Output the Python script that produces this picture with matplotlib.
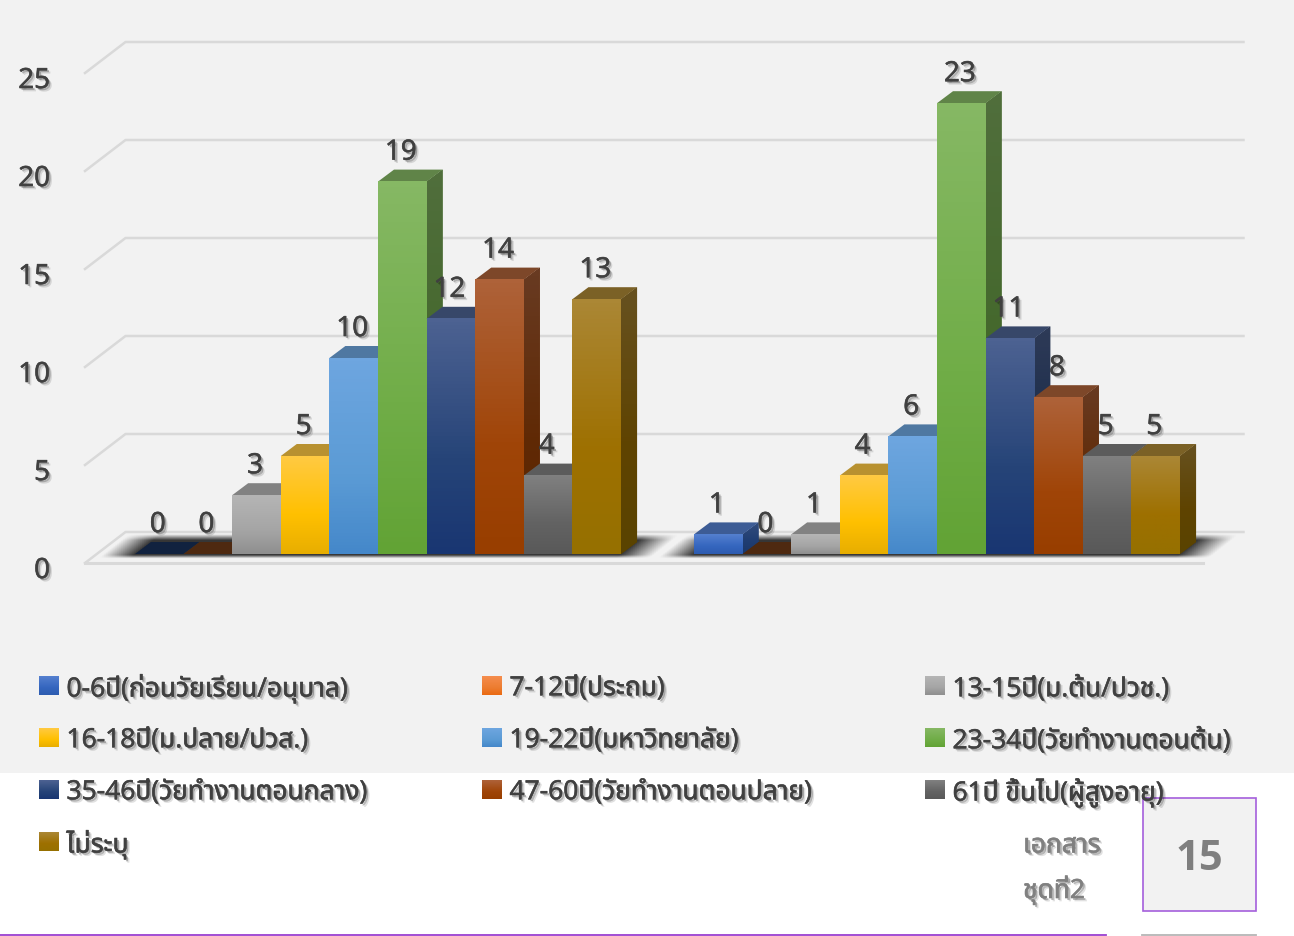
"""Age groups bar chart, two groups of ten bars drawn with a fake 3D look"""
import matplotlib
matplotlib.use('Agg')
import matplotlib.pyplot as plt
import matplotlib.patheffects as pe
import numpy as np
from matplotlib.colors import to_rgb
from matplotlib.patches import Polygon, Rectangle

plt.rcParams['font.family'] = ['Open Sans', 'Noto Sans Thai', 'DejaVu Sans']

series_names = ['0-6ปี(ก่อนวัยเรียน/อนุบาล)', '7-12ปี(ประถม)', '13-15ปี(ม.ต้น/ปวช.)',
                '16-18ปี(ม.ปลาย/ปวส.)', '19-22ปี(มหาวิทยาลัย)', '23-34ปี(วัยทำงานตอนต้น)',
                '35-46ปี(วัยทำงานตอนกลาง)', '47-60ปี(วัยทำงานตอนปลาย)', '61ปี ขึ้นไป(ผู้สูงอายุ)',
                'ไม่ระบุ']
group_1 = [0, 0, 3, 5, 10, 19, 12, 14, 4, 13]
group_2 = [1, 0, 1, 4, 6, 23, 11, 8, 5, 5]
y_ticks = [0, 5, 10, 15, 20, 25]
doc_label = ['เอกสาร', 'ชุดที่2']
doc_number = '15'

# top, middle and bottom colour of each series
gradients = [('#5580cf', '#3566bf', '#2d5cb0'), ('#f58d4e', '#ed7d31', '#ea6a12'),
             ('#b5b5b5', '#a5a5a5', '#8f8f8f'), ('#ffca42', '#ffc000', '#e8ae00'),
             ('#6ea6e0', '#5b9bd5', '#4588ca'), ('#86b864', '#70ad47', '#62a335'),
             ('#4d6292', '#264478', '#193672'), ('#ae6239', '#a04508', '#983e00'),
             ('#808080', '#636363', '#595959'), ('#ab8735', '#9e7000', '#967000')]

W, H = 1294, 936
BAR_PX = 48.6
UNIT_PX = 19.6
CHART_LEFT, CHART_WIDTH = 98.5, 1118
CHART_BOTTOM = 554
BAR_COUNT = 23  # two categories, 11.5 bar widths each


def shade(color, factor):
    return tuple(c * factor for c in to_rgb(color))


def gradient_image(stops):
    top, mid, bottom = [np.array(to_rgb(c)) for c in stops]
    t = np.linspace(0, 1, 64)[:, None]
    return np.where(t < 0.6, top + (mid - top) * t / 0.6, mid + (bottom - mid) * (t - 0.6) / 0.4)[:, None, :]


def soft_text(target, x, y, text, size, color='#404040', **kwargs):
    t = target.text(x, y, text, fontsize=size, color=color, va='center', clip_on=False, **kwargs)
    t.set_path_effects([pe.SimplePatchShadow(offset=(2.4, -2.4), shadow_rgbFace='#000000', alpha=0.12),
                        pe.SimplePatchShadow(offset=(1.4, -1.4), shadow_rgbFace='#000000', alpha=0.28),
                        pe.Stroke(linewidth=0.45, foreground=color),
                        pe.Normal()])
    return t


fig = plt.figure(figsize=(W / 100, H / 100), dpi=100, facecolor='white')

# page layer, in pixels
page = fig.add_axes([0, 0, 1, 1], zorder=0)
page.set_xlim(0, W)
page.set_ylim(H, 0)
page.axis('off')
page.add_patch(Rectangle((0, 0), W, 773, color='#f2f2f2', lw=0))
page.add_patch(Rectangle((1142.5, 797.5), 113, 113, facecolor='#f2f2f2', edgecolor='#a45fdc', lw=1.2))
page.plot([0, 1106], [934.5, 934.5], color='#9a3fd0', lw=1.3)
page.plot([1142, 1256], [934.5, 934.5], color='#b5b5b5', lw=1.3)

# chart layer: x in bar widths, y in values
ax = fig.add_axes([CHART_LEFT / W, 1 - CHART_BOTTOM / H, CHART_WIDTH / W, 25 * UNIT_PX / H], zorder=1)
ax.patch.set_alpha(0)
ax.axis('off')

dx = lambda px: px / BAR_PX
dy = lambda px: px / UNIT_PX

back_x, back_y = dx(27), dy(22)
front_x, front_y = dx(-13.5), dy(-9)

# back wall grid lines with the short diagonal on the left side
for tick in y_ticks:
    ax.plot([front_x, back_x, BAR_COUNT + back_x],
            [tick + front_y, tick + back_y, tick + back_y],
            color='#d9d9d9', lw=1.8, clip_on=False, zorder=1)
    soft_text(ax, dx(-48.5), tick + dy(-17), str(tick), 20, ha='right')
ax.plot([front_x, BAR_COUNT + front_x], [front_y, front_y], color='#d9d9d9', lw=2.2, clip_on=False, zorder=1)

depth_x, depth_y = dx(16), dy(12)
order = 10
labels = []
for start, values in zip([0.75, 12.25], [group_1, group_2]):
    xs = start + np.arange(len(values))

    # soft floor shadow under the group, skewed like the floor
    left_px, right_px = 0.0, len(values) * BAR_PX
    gx, gy = np.meshgrid(np.linspace(-50, right_px + 70, 320), np.linspace(22, -6, 60))
    u = gx - gy * 1.25
    alpha = (np.clip((u - (left_px - 32)) / 32, 0, 1) * np.clip((right_px + 34 - u) / 34, 0, 1)
             * np.clip((gy + 4.5) / 3.5, 0, 1) * np.clip((20 - gy) / 6, 0, 1))
    soft = np.zeros(alpha.shape + (4,))
    soft[..., 3] = 0.78 * alpha
    ax.imshow(soft, extent=(xs[0] + dx(-50), xs[0] + dx(right_px + 70), dy(-6), dy(22)),
              aspect='auto', zorder=2, clip_on=False)

    bars = ax.bar(xs, values, width=1, align='edge', color=[g[1] for g in gradients], lw=0, zorder=3)
    for i, (bar, value) in enumerate(zip(bars, values)):
        x0 = bar.get_x()
        x1 = x0 + 1
        stops = gradients[i]
        if value > 0:
            order += 1
            side = Polygon([(x1, 0), (x1 + depth_x, depth_y), (x1 + depth_x, value + depth_y), (x1, value)],
                           facecolor=shade(stops[1], 0.6), lw=0, zorder=order)
            ax.add_patch(side)
            order += 1
            side_stops = [shade(c, 0.6) for c in stops]
            side_img = ax.imshow(gradient_image(side_stops), extent=(x1, x1 + depth_x, 0, value + depth_y),
                                 aspect='auto', zorder=order)
            side_img.set_clip_path(side)
        order += 1
        top_color = shade(stops[1], 0.33) if value == 0 else shade(stops[0], 0.72)
        ax.add_patch(Polygon([(x0, value), (x0 + depth_x, value + depth_y), (x1 + depth_x, value + depth_y),
                              (x1, value)], facecolor=top_color, lw=0, zorder=order))
        order += 1
        bar.set_zorder(order)
        if value > 0:
            order += 1
            ax.imshow(gradient_image(stops), extent=(x0, x1, 0, value), aspect='auto', zorder=order)
        labels.append((x0 + 0.5, value))

for x, value in labels:
    soft_text(ax, x - dx(1.5), value + dy(29), str(value), 20, ha='center', zorder=500)

ax.set_xlim(0, BAR_COUNT)
ax.set_ylim(0, 25)

# legend, three columns filled row by row
col_x = [39, 482, 925]
row_y = [686, 738, 790, 842]
for i, (name, stops) in enumerate(zip(series_names, gradients)):
    row, col = divmod(i, 3)
    sx, sy = col_x[col], row_y[row]
    page.imshow(gradient_image(stops), extent=(sx, sx + 19.5, sy + 9.5, sy - 9.5), aspect='auto', zorder=3)
    soft_text(page, sx + 27.5, sy + 2.5, name, 19, zorder=4)

page.set_xlim(0, W)
page.set_ylim(H, 0)

for y, text in zip([846, 890], doc_label):
    soft_text(page, 1023, y, text, 19, color='#808080', zorder=4)
page.text(1199.5, 859, doc_number, fontsize=30, fontweight='bold', color='#7f7f7f', ha='center', va='center', zorder=4)

fig.savefig('out.png', dpi=100, facecolor=fig.get_facecolor())
